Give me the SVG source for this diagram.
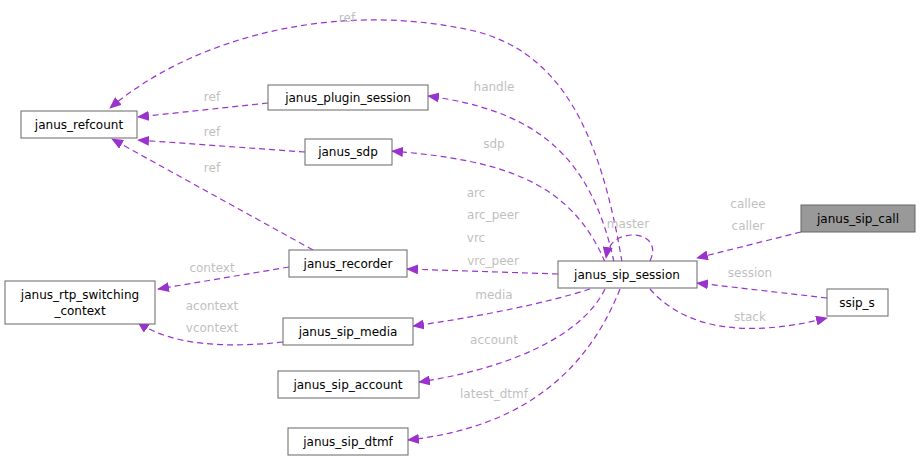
<svg xmlns="http://www.w3.org/2000/svg" width="920" height="462" viewBox="0 0 920 462">
<style>
.n rect{fill:#fff;stroke:#666;stroke-width:1}
.n text{font-family:"DejaVu Sans",sans-serif;font-size:12px;fill:#000;text-anchor:middle}
.e path{fill:none;stroke:#9a32cd;stroke-width:1.2;stroke-dasharray:6,4;marker-end:url(#a)}
.l{font-family:"DejaVu Sans",sans-serif;font-size:12px;fill:#bfbfbf;text-anchor:middle}
</style>
<defs><marker id="a" markerWidth="12" markerHeight="10" refX="11" refY="5" orient="auto" markerUnits="userSpaceOnUse"><path d="M0,0 L12,5 L0,10 Z" fill="#9a32cd"/></marker></defs>
<g class="e">
<path d="M622,262 C600,130 560,50 470,30 C330,0 190,40 110,108"/>
<path d="M268,103 L138,117"/>
<path d="M305,152 L138,140"/>
<path d="M313,250 L112,139"/>
<path d="M614,262 C590,150 530,110 428,96"/>
<path d="M605,262 C570,180 500,160 392,151"/>
<path d="M558,274 L407,269"/>
<path d="M289,267 L158,289"/>
<path d="M283,342 C230,348 170,346 138,322"/>
<path d="M590,289 C540,305 470,318 413,326"/>
<path d="M605,289 C580,340 500,370 419,382"/>
<path d="M620,289 C580,390 500,430 408,440"/>
<path d="M650,261 C660,240 640,232 625,236 C615,238 608,245 606,258"/>
<path d="M801,232 L697,258"/>
<path d="M827,298 L697,283"/>
<path d="M650,289 C690,335 760,335 827,318"/>
</g>
<text class="l" x="347" y="22">ref</text>
<text class="l" x="212" y="101">ref</text>
<text class="l" x="212" y="136">ref</text>
<text class="l" x="212" y="172">ref</text>
<text class="l" x="494" y="91">handle</text>
<text class="l" x="494" y="148">sdp</text>
<text class="l" x="476" y="197">arc</text>
<text class="l" x="493" y="219">arc_peer</text>
<text class="l" x="476" y="242">vrc</text>
<text class="l" x="493" y="265">vrc_peer</text>
<text class="l" x="212" y="272">context</text>
<text class="l" x="212" y="310">acontext</text>
<text class="l" x="212" y="332">vcontext</text>
<text class="l" x="494" y="299">media</text>
<text class="l" x="494" y="344">account</text>
<text class="l" x="494" y="398">latest_dtmf</text>
<text class="l" x="628" y="228">master</text>
<text class="l" x="748" y="208">callee</text>
<text class="l" x="748" y="230">caller</text>
<text class="l" x="750" y="277">session</text>
<text class="l" x="750" y="321">stack</text>
<g class="n" id="janus_refcount"><rect x="21" y="111" width="116" height="27"/><text x="79" y="129">janus_refcount</text></g>
<g class="n" id="janus_plugin_session"><rect x="268" y="85" width="160" height="25"/><text x="348" y="102">janus_plugin_session</text></g>
<g class="n" id="janus_sdp"><rect x="305" y="139" width="87" height="26"/><text x="348" y="156">janus_sdp</text></g>
<g class="n" id="janus_recorder"><rect x="289" y="250" width="118" height="27"/><text x="348" y="268">janus_recorder</text></g>
<g class="n" id="janus_rtp_switching_context"><rect x="5" y="281" width="150" height="43"/><text x="80" y="299">janus_rtp_switching</text><text x="80" y="315">_context</text></g>
<g class="n" id="janus_sip_media"><rect x="283" y="318" width="130" height="27"/><text x="348" y="336">janus_sip_media</text></g>
<g class="n" id="janus_sip_account"><rect x="278" y="371" width="141" height="27"/><text x="348" y="389">janus_sip_account</text></g>
<g class="n" id="janus_sip_dtmf"><rect x="288" y="428" width="120" height="27"/><text x="348" y="446">janus_sip_dtmf</text></g>
<g class="n" id="janus_sip_session"><rect x="558" y="261" width="139" height="27"/><text x="627" y="279">janus_sip_session</text></g>
<g class="n" id="janus_sip_call"><rect x="801" y="205" width="114" height="27" style="fill:#999"/><text x="858" y="223">janus_sip_call</text></g>
<g class="n" id="ssip_s"><rect x="827" y="289" width="61" height="27"/><text x="857" y="307">ssip_s</text></g>
</svg>
